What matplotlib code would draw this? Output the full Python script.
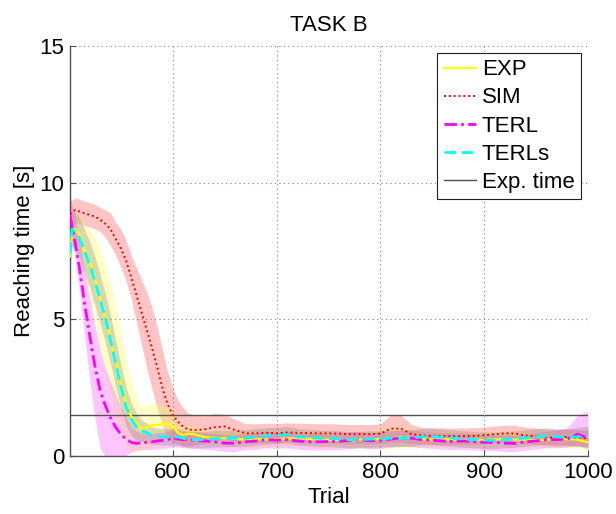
import numpy as np
import matplotlib
matplotlib.use("Agg")
import matplotlib.pyplot as plt

plt.rcParams['font.family'] = ['Liberation Sans', 'DejaVu Sans']

# Trial index at which each running value is sampled
trial = [501, 503, 506, 510, 515, 520, 525, 530, 535, 540, 545, 550, 555, 560,
         565, 570, 575, 580, 585, 590, 595, 600, 605, 610, 615,
         620, 630, 640, 650, 660, 670, 680, 690, 700, 710, 720, 730, 740, 750,
         760, 770, 780, 790, 800, 810, 820, 830, 840, 850, 860, 870, 880, 890,
         900, 910, 920, 930, 940, 950, 960, 970, 980, 990, 1000]

# Mean reaching time [s]
exp_mean = [7.3, 8.2, 8.3, 8.1, 7.55, 7.1, 6.5, 5.8, 5.1, 4.3, 3.5, 2.7, 1.95, 1.45,
            1.2, 1.0, 1.05, 1.13, 1.13, 1.18, 1.17, 1.1, 0.85, 0.77, 0.82,
            0.8, 0.7, 0.66, 0.65, 0.63, 0.6, 0.62, 0.6, 0.62, 0.64, 0.65, 0.63, 0.6, 0.6,
            0.58, 0.55, 0.6, 0.6, 0.62, 0.65, 0.68, 0.66, 0.62, 0.6, 0.62, 0.6, 0.58, 0.6,
            0.59, 0.6, 0.62, 0.6, 0.6, 0.58, 0.6, 0.6, 0.62, 0.6, 0.5]
sim_mean = [8.85, 8.9, 9.0, 8.95, 8.88, 8.82, 8.76, 8.65, 8.5, 8.3, 7.95, 7.6, 7.15, 6.55,
            5.9, 5.25, 4.6, 3.95, 3.25, 2.5, 1.9, 1.5, 1.25, 1.07, 0.97,
            0.95, 0.97, 1.05, 1.08, 0.95, 0.83, 0.83, 0.85, 0.83, 0.86, 0.85, 0.84, 0.83, 0.83,
            0.82, 0.8, 0.8, 0.8, 0.82, 1.0, 1.0, 0.8, 0.75, 0.73, 0.73, 0.72, 0.73, 0.73,
            0.76, 0.8, 0.83, 0.82, 0.75, 0.72, 0.68, 0.66, 0.7, 0.66, 0.65]
terl_mean = [8.8, 8.4, 7.8, 6.9, 5.6, 4.4, 3.3, 2.4, 1.85, 1.4, 1.05, 0.8, 0.62, 0.5,
             0.46, 0.48, 0.5, 0.52, 0.55, 0.57, 0.6, 0.65, 0.62, 0.6, 0.6,
             0.58, 0.55, 0.52, 0.47, 0.47, 0.52, 0.55, 0.6, 0.58, 0.6, 0.55, 0.52, 0.52, 0.53,
             0.54, 0.57, 0.6, 0.56, 0.58, 0.62, 0.66, 0.65, 0.6, 0.58, 0.55, 0.53, 0.55, 0.52,
             0.5, 0.5, 0.47, 0.46, 0.52, 0.55, 0.6, 0.6, 0.62, 0.8, 0.65]
terls_mean = [7.4, 8.3, 8.2, 8.0, 7.5, 7.0, 6.4, 5.75, 5.05, 4.25, 3.4, 2.55, 1.8, 1.35,
              1.05, 0.92, 0.85, 0.75, 0.72, 0.7, 0.7, 0.68, 0.7, 0.65, 0.6,
              0.6, 0.6, 0.63, 0.63, 0.65, 0.65, 0.7, 0.73, 0.75, 0.78, 0.7, 0.68, 0.65, 0.64,
              0.62, 0.6, 0.6, 0.62, 0.63, 0.65, 0.65, 0.66, 0.7, 0.71, 0.68, 0.65, 0.62, 0.6,
              0.58, 0.57, 0.6, 0.62, 0.66, 0.7, 0.73, 0.7, 0.68, 0.7, 0.71]

# Spread around each mean [s]
exp_spread = [0.5, 0.5, 0.6, 0.7, 0.9, 1.2, 1.5, 1.8, 1.9, 2.0, 2.0, 1.8, 1.6, 1.3,
              1.0, 0.8, 0.8, 0.8, 0.75, 0.7, 0.6, 0.5, 0.4, 0.35, 0.3,
              0.3, 0.28, 0.28, 0.28, 0.28, 0.28, 0.28, 0.28, 0.28, 0.28, 0.28, 0.28, 0.28, 0.28,
              0.28, 0.28, 0.28, 0.3, 0.35, 0.38, 0.38, 0.35, 0.3, 0.28, 0.28, 0.28, 0.28, 0.28,
              0.28, 0.28, 0.28, 0.28, 0.28, 0.28, 0.28, 0.28, 0.3, 0.3, 0.3]
sim_spread = [0.45, 0.45, 0.45, 0.45, 0.45, 0.45, 0.45, 0.45, 0.5, 0.6, 0.6, 0.7, 0.75, 0.8,
              1.0, 1.2, 1.4, 1.5, 1.5, 1.4, 1.2, 1.0, 0.8, 0.7, 0.6,
              0.55, 0.5, 0.5, 0.45, 0.4, 0.35, 0.35, 0.35, 0.35, 0.35, 0.35, 0.35, 0.35, 0.35,
              0.35, 0.35, 0.35, 0.35, 0.35, 0.5, 0.5, 0.35, 0.3, 0.3, 0.3, 0.3, 0.3, 0.3,
              0.3, 0.3, 0.3, 0.3, 0.3, 0.3, 0.3, 0.3, 0.3, 0.3, 0.3]
terl_spread_lo = [0.5, 0.55, 0.6, 0.8, 1.2, 1.6, 1.9, 2.1, 1.9, 1.6, 1.2, 0.9, 0.6, 0.35,
                  0.25, 0.25, 0.25, 0.28, 0.3, 0.3, 0.3, 0.3, 0.3, 0.3, 0.3,
                  0.3, 0.3, 0.3, 0.3, 0.3, 0.3, 0.3, 0.3, 0.3, 0.3, 0.3, 0.3, 0.3, 0.3,
                  0.3, 0.3, 0.3, 0.3, 0.3, 0.3, 0.3, 0.3, 0.3, 0.3, 0.3, 0.3, 0.3, 0.3,
                  0.3, 0.3, 0.3, 0.3, 0.3, 0.3, 0.3, 0.3, 0.3, 0.4, 0.4]
terl_spread_hi = [0.8, 0.8, 0.9, 1.0, 1.2, 1.4, 1.5, 1.5, 1.4, 1.3, 1.2, 1.0, 0.8, 0.6,
                  0.45, 0.35, 0.3, 0.3, 0.3, 0.3, 0.3, 0.3, 0.3, 0.3, 0.3,
                  0.3, 0.3, 0.3, 0.3, 0.3, 0.3, 0.3, 0.3, 0.3, 0.3, 0.3, 0.3, 0.3, 0.3,
                  0.3, 0.3, 0.3, 0.3, 0.3, 0.3, 0.3, 0.3, 0.3, 0.3, 0.3, 0.3, 0.3, 0.3,
                  0.3, 0.3, 0.3, 0.3, 0.3, 0.3, 0.3, 0.35, 0.4, 0.7, 1.0]
terls_spread = [0.5, 0.6, 0.7, 0.75, 0.8, 0.85, 0.9, 0.9, 0.9, 0.9, 0.85, 0.8, 0.7, 0.6,
                0.5, 0.4, 0.35, 0.32, 0.3, 0.3, 0.3, 0.3, 0.3, 0.3, 0.3,
                0.3, 0.3, 0.3, 0.3, 0.3, 0.3, 0.3, 0.3, 0.3, 0.3, 0.3, 0.3, 0.3, 0.3,
                0.3, 0.3, 0.3, 0.3, 0.3, 0.3, 0.3, 0.3, 0.3, 0.3, 0.3, 0.3, 0.3, 0.3,
                0.3, 0.3, 0.3, 0.3, 0.3, 0.3, 0.3, 0.3, 0.3, 0.35, 0.4]

expected_time = 1.5

x = np.array(trial)
fig = plt.figure(figsize=(6.16, 5.14), dpi=100)
ax = fig.add_axes([70 / 616, 1 - 456 / 514, 518 / 616, 410 / 514])

def band(mean, lo, hi, color, alpha):
    m = np.array(mean)
    ax.fill_between(x, m - np.array(lo), m + np.array(hi), color=color,
                    alpha=alpha, linewidth=0, zorder=1)

band(sim_mean, sim_spread, sim_spread, '#ff4040', 0.3)
band(exp_mean, exp_spread, exp_spread, '#ffff40', 0.3)
band(terl_mean, terl_spread_lo, terl_spread_hi, '#ff40ff', 0.3)
band(terls_mean, terls_spread, terls_spread, '#808080', 0.3)

ax.plot(x, exp_mean, color='#ffff00', lw=1.6, ls='-', label='EXP', zorder=3)
ax.plot(x, sim_mean, color='#ff0000', lw=1.4, ls=(0, (1, 1.5)), label='SIM', zorder=3)
ax.plot(x, terl_mean, color='#ff00ff', lw=2.0, ls=(0, (4.5, 1.5, 1, 1.5)),
        label='TERL', zorder=3)
ax.plot(x, terls_mean, color='#00ffff', lw=2.0, ls=(0, (4.2, 2.0)), label='TERLs', zorder=3)
ax.axhline(expected_time, color='#505050', lw=1.0, label='Exp. time', zorder=2)

ax.set_xlim(501, 1000)
ax.set_ylim(0, 15)
ax.set_xticks([600, 700, 800, 900, 1000])
ax.set_yticks([0, 5, 10, 15])
ax.grid(True, linestyle=(0, (1, 3)), color='#808080', lw=0.8)
ax.set_axisbelow(False)
for s in ('top', 'right'):
    ax.spines[s].set_visible(False)
for s in ('left', 'bottom'):
    ax.spines[s].set_color('#505050')
    ax.spines[s].set_linewidth(1.0)
ax.tick_params(direction='in', length=4, color='#505050', labelsize=16, pad=4)

ax.set_xlabel('Trial', fontsize=16, labelpad=3)
ax.set_ylabel('Reaching time [s]', fontsize=16, labelpad=3)
ax.set_title('TASK B', fontsize=16, pad=11)

leg = ax.legend(loc='upper right', fontsize=16, frameon=True, fancybox=False,
                handlelength=1.45, handletextpad=0.25, labelspacing=0.32,
                borderpad=0.3, borderaxespad=0.3)
leg.get_frame().set_edgecolor('#202020')
leg.get_frame().set_linewidth(0.8)
leg.get_frame().set_alpha(1.0)

fig.savefig('out.png', dpi=100, facecolor='white')
